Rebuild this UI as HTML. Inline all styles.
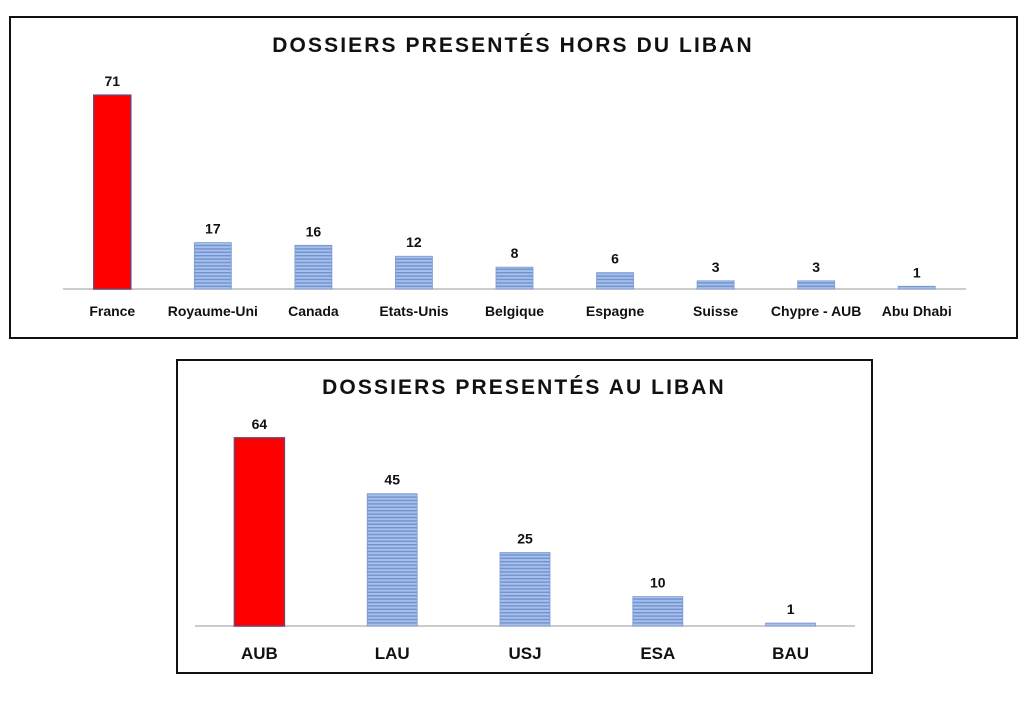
<!DOCTYPE html>
<html><head><meta charset="utf-8"><style>
body{margin:0;background:#fff;width:1024px;height:721px;overflow:hidden;font-family:"Liberation Sans",sans-serif}
svg{position:absolute;left:0;top:0}
text{font-family:"Liberation Sans","DejaVu Sans",sans-serif;font-weight:bold;fill:#111}
</style></head><body>
<svg id="svg" width="1024" height="721">
<defs>
<pattern id="stripe" width="4" height="3.4" patternUnits="userSpaceOnUse">
<rect width="4" height="3.4" fill="#a8bfe8"/><rect width="4" height="1.4" fill="#6e92d4"/>
</pattern>
</defs>
<rect x="10" y="17" width="1007" height="321" fill="#fff" stroke="#111" stroke-width="2"/>
<text x="513" y="52" text-anchor="middle" font-size="21" letter-spacing="2.1">DOSSIERS PRESENTÉS HORS DU LIBAN</text>
<line x1="63" y1="289" x2="966" y2="289" stroke="#bbb" stroke-width="1.5"/>
<g id="c1"></g>
<rect x="177" y="360" width="695" height="313" fill="#fff" stroke="#111" stroke-width="2"/>
<text x="524" y="394" text-anchor="middle" font-size="21" letter-spacing="2.1">DOSSIERS PRESENTÉS AU LIBAN</text>
<line x1="195" y1="626" x2="855" y2="626" stroke="#bbb" stroke-width="1.5"/>
<g id="c2"></g>
</svg>
<script>
const cats1=["France","Royaume-Uni","Canada","Etats-Unis","Belgique","Espagne","Suisse","Chypre - AUB","Abu Dhabi"];
const vals1=[71,17,16,12,8,6,3,3,1];
const cats2=["AUB","LAU","USJ","ESA","BAU"];
const vals2=[64,45,25,10,1];
const NS="http://www.w3.org/2000/svg";
function draw(gid,cats,vals,o){
  const g=document.getElementById(gid);
  const step=(o.x1-o.x0)/cats.length;
  const xs=i=>o.x0+step*(i+0.5);
  const ys=v=>o.base-v*o.k;
  cats.forEach((c,i)=>{
    const y=ys(vals[i]);
    const r=document.createElementNS(NS,'rect');
    
    
    r.setAttribute('x',xs(i)-o.w/2);r.setAttribute('y',y);
    r.setAttribute('width',o.w);r.setAttribute('height',o.base-y);
    if(i===0){r.setAttribute('fill','#ff0000');r.setAttribute('stroke','#7a3f6a');r.setAttribute('stroke-width','1.5');}
    else{r.setAttribute('fill','url(#stripe)');r.setAttribute('stroke','#7b9ad6');r.setAttribute('stroke-width','0.8');}
    g.appendChild(r);
    const t=document.createElementNS(NS,'text');
    
    
    t.setAttribute('x',xs(i));t.setAttribute('y',y-9);t.setAttribute('text-anchor','middle');t.setAttribute('font-size',o.fv);
    t.textContent=vals[i];g.appendChild(t);
    const l=document.createElementNS(NS,'text');
    
    
    l.setAttribute('x',xs(i));l.setAttribute('y',o.ly);l.setAttribute('text-anchor','middle');l.setAttribute('font-size',o.fl);
    l.textContent=c;g.appendChild(l);
  });
}
draw('c1',cats1,vals1,{x0:62,x1:967,base:289,k:2.73,w:37,ly:316,fv:14,fl:14});
draw('c2',cats2,vals2,{x0:193,x1:857,base:626,k:2.94,w:50,ly:659,fv:14,fl:17});
</script>
</body></html>
